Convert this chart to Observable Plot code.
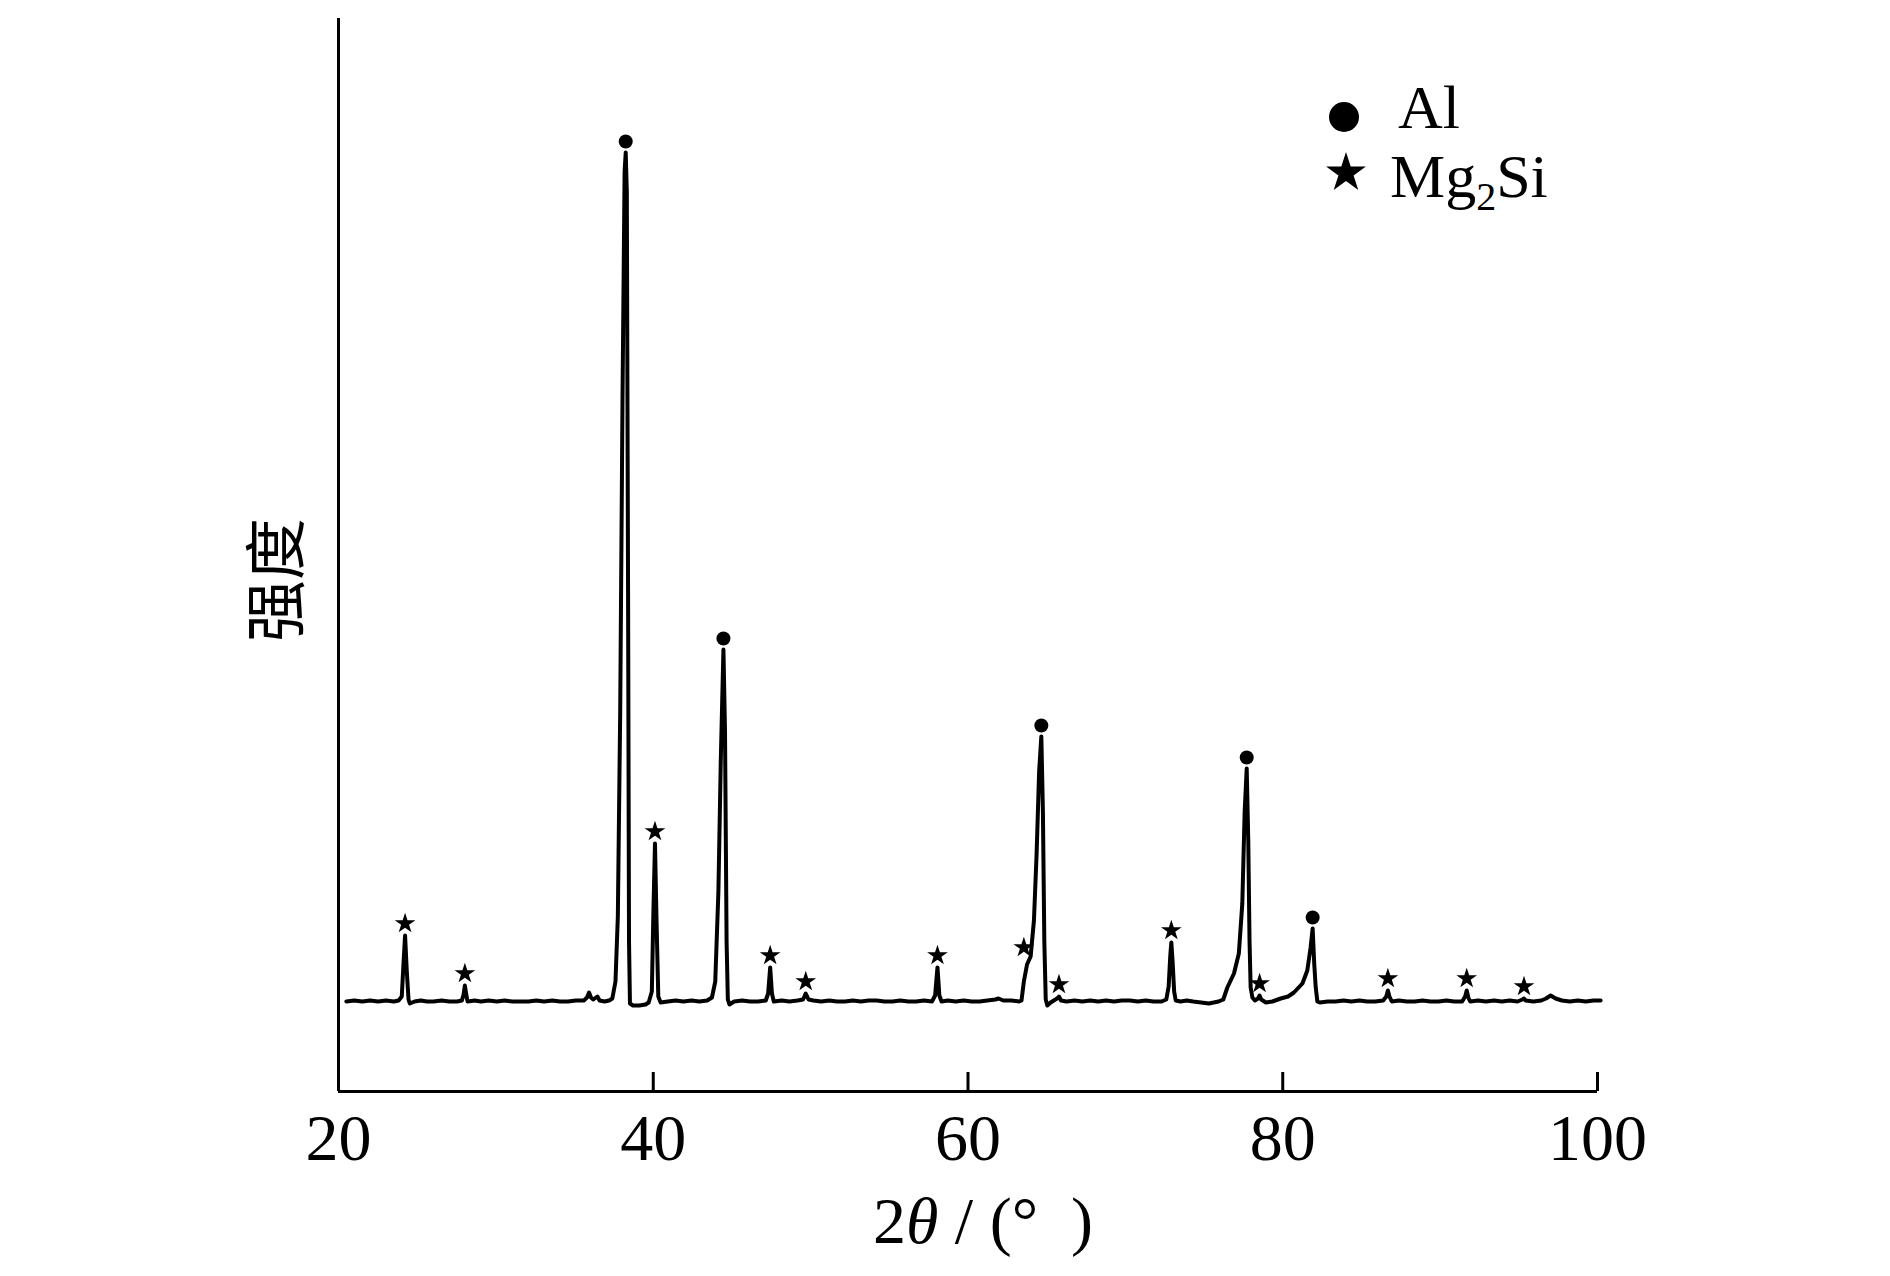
<!DOCTYPE html>
<html>
<head>
<meta charset="utf-8">
<script src="https://cdn.jsdelivr.net/npm/d3@7"></script>
<script src="https://cdn.jsdelivr.net/npm/@observablehq/plot@0.6"></script>
<style>
  html, body { margin: 0; padding: 0; background: #fff; }
  #chart { width: 1890px; height: 1276px; }
</style>
</head>
<body>
<div id="chart"></div>
<script>
// ---- data ----
const xTicks = [20, 40, 60, 80, 100];

const twoTheta = [
  20.50, 21.01, 21.51, 22.01, 22.51, 23.02, 23.52, 23.82, 24.02, 24.12, 24.23, 24.34, 24.45, 24.53, 24.83,
  25.23, 25.63, 26.03, 26.54, 27.04, 27.54, 27.84, 27.95, 28.03, 28.12, 28.20, 28.65, 29.05, 29.55, 30.06,
  30.56, 31.06, 31.57, 32.07, 32.57, 33.07, 33.58, 34.08, 34.58, 35.09, 35.59, 35.79, 35.92, 36.04, 36.19,
  36.45, 36.59, 36.90, 37.20, 37.40, 37.60, 37.75, 37.90, 38.05, 38.18, 38.25, 38.32, 38.40, 38.46, 38.52,
  38.71, 39.11, 39.51, 39.71, 39.91, 40.01, 40.11, 40.21, 40.32, 40.47, 40.92, 41.42, 41.92, 42.43, 42.93,
  43.43, 43.73, 43.94, 44.14, 44.29, 44.46, 44.56, 44.66, 44.74, 44.84, 45.14, 45.65, 46.15, 46.65, 47.15,
  47.30, 47.43, 47.54, 47.66, 48.16, 48.66, 49.17, 49.52, 49.69, 49.87, 50.17, 50.67, 51.18, 51.68, 52.18,
  52.69, 53.19, 53.69, 54.19, 54.70, 55.20, 55.70, 56.21, 56.71, 57.21, 57.71, 57.91, 58.06, 58.18, 58.32,
  58.72, 59.22, 59.73, 60.23, 60.73, 61.23, 61.74, 61.94, 62.24, 62.74, 63.25, 63.40, 63.55, 63.75, 63.98,
  64.19, 64.36, 64.52, 64.66, 64.76, 64.85, 64.94, 65.04, 65.25, 65.66, 65.78, 65.91, 66.26, 66.77,
  67.27, 67.77, 68.27, 68.78, 69.28, 69.78, 70.29, 70.79, 71.29, 71.79, 72.30, 72.60, 72.75, 72.85, 72.92,
  73.00, 73.10, 73.20, 73.50, 73.91, 74.31, 74.81, 75.31, 75.92, 76.22, 76.48, 76.90, 77.21, 77.43, 77.58,
  77.71, 77.81, 77.89, 77.96, 78.07, 78.23, 78.43, 78.53, 78.63, 78.93, 79.34, 79.87, 80.34, 80.71, 81.25,
  81.56, 81.77, 81.90, 82.00, 82.09, 82.20, 82.35, 82.86, 83.36, 83.86, 84.36, 84.87, 85.37, 85.87, 86.38,
  86.58, 86.68, 86.78, 86.93, 87.38, 87.88, 88.39, 88.89, 89.39, 89.90, 90.40, 90.90, 91.40, 91.59, 91.69,
  91.79, 91.91, 92.41, 92.91, 93.42, 93.92, 94.42, 94.92, 95.23, 95.33, 95.43, 95.93, 96.43, 96.73, 97.02,
  97.34, 97.74, 98.24, 98.75, 99.25, 99.75, 100.2
];

const intensity = [
  90, 91, 90, 91, 90, 91, 90, 91, 95, 125, 156, 120, 92, 88, 90,
  91, 90, 90, 91, 90, 90, 91, 97, 106, 97, 90, 91, 90, 91, 90,
  91, 90, 90, 90, 91, 90, 91, 90, 90, 91, 91, 94, 99, 94, 92,
  95, 91, 90, 91, 93, 110, 175, 380, 700, 920, 939, 900, 500, 150, 88,
  86, 86, 87, 89, 100, 180, 248, 170, 95, 89, 90, 91, 90, 91, 90,
  91, 94, 110, 200, 330, 442, 360, 150, 92, 87, 90, 91, 90, 90, 91,
  98, 124, 98, 90, 91, 90, 91, 92, 98, 92, 91, 90, 91, 90, 90,
  91, 90, 91, 91, 90, 90, 91, 90, 90, 91, 90, 96, 124, 96, 90,
  91, 90, 91, 90, 90, 91, 92, 93, 91, 91, 90, 91, 110, 127, 135,
  171, 238, 320, 355, 280, 150, 92, 86, 89, 93, 95, 91, 90, 91,
  90, 91, 90, 91, 90, 91, 91, 90, 91, 90, 90, 92, 105, 135, 149,
  130, 100, 91, 90, 91, 90, 89, 88, 90, 92, 104, 118, 138, 188, 280,
  323, 250, 150, 104, 94, 91, 93, 96, 92, 89, 90, 93, 95, 99, 108,
  121, 144, 163, 128, 105, 90, 89, 90, 90, 91, 90, 91, 90, 90, 91,
  95, 101, 95, 90, 91, 90, 90, 91, 90, 90, 91, 90, 90, 95, 101,
  94, 90, 91, 90, 91, 90, 91, 90, 92, 93, 91, 90, 91, 93, 96,
  93, 91, 90, 91, 90, 91, 91
];

// Peak markers (position, peak height they sit on)
const alPeak2T = [38.25, 44.46, 64.66, 77.71, 81.90];
const alPeakI  = [939, 442, 355, 323, 163];
const mgPeak2T = [24.23, 28.03, 40.11, 47.43, 49.69, 58.06, 63.55, 65.78, 72.92, 78.53, 86.68, 91.69, 95.33];
const mgPeakI  = [156, 106, 248, 124, 98, 124, 132, 95, 149, 96, 101, 101, 93];

const legendLabels = ["Al", "Mg", "2", "Si"];
const xLabelParts = ["2", "θ", " / (°  )"];
const yLabel = "强度";

// ---- build ----
const pattern = twoTheta.map((t, i) => ({t, I: intensity[i]}));
const alPeaks = alPeak2T.map((t, i) => ({t, I: alPeakI[i]}));
const mgPeaks = mgPeak2T.map((t, i) => ({t, I: mgPeakI[i]}));

const W = 1890, H = 1276;
const mL = 338, mR = 293, mT = 18, mB = 185;
const frameH = H - mT - mB;
const serif = "'Liberation Serif', 'Times New Roman', serif";

const chart = Plot.plot({
  width: W,
  height: H,
  marginLeft: mL,
  marginRight: mR,
  marginTop: mT,
  marginBottom: mB,
  style: {fontFamily: serif, color: "black", background: "white", overflow: "visible"},
  x: {domain: [20, 100]},
  y: {domain: [0, 1073], axis: null},
  marks: [
    Plot.ruleX([20], {stroke: "black", strokeWidth: 3}),
    Plot.ruleY([0], {stroke: "black", strokeWidth: 3}),
    Plot.ruleX(xTicks, {x: d => d, stroke: "black", strokeWidth: 3, insetTop: frameH - 19}),
    Plot.axisX({ticks: xTicks, tickSize: 0, tickPadding: 22, fontSize: 66, label: null, fontFamily: serif}),
    Plot.line(pattern, {x: "t", y: "I", stroke: "black", strokeWidth: 4, strokeLinejoin: "round", curve: "linear"}),
    Plot.dot(alPeaks, {x: "t", y: "I", dy: -11, r: 7, fill: "black", stroke: null, symbol: "circle"}),
    Plot.dot(mgPeaks, {x: "t", y: "I", dy: -12, r: 6.5, fill: "black", stroke: null, symbol: "star"})
  ]
});

const svg = d3.select(chart);

// x axis label with italic theta
const xl = svg.append("text")
  .attr("x", 983).attr("y", 1243)
  .attr("text-anchor", "middle")
  .attr("font-family", serif)
  .attr("font-size", 66)
  .attr("fill", "black")
  .style("white-space", "pre");
xl.append("tspan").text(xLabelParts[0]);
xl.append("tspan").attr("font-style", "italic").text(xLabelParts[1]);
xl.append("tspan").text(xLabelParts[2]);

// y axis label (rotated)
svg.append("text")
  .attr("transform", "translate(272,580) rotate(-90)")
  .attr("text-anchor", "middle")
  .attr("dominant-baseline", "central")
  .attr("font-family", "'Noto Sans CJK SC', sans-serif")
  .attr("font-size", 62)
  .attr("fill", "black")
  .text(yLabel);

// legend
const lg = svg.append("g").attr("text-anchor", "start");
lg.append("circle").attr("cx", 1344).attr("cy", 117).attr("r", 15).attr("fill", "black");
lg.append("path")
  .attr("transform", "translate(1346,173)")
  .attr("d", d3.symbol(d3.symbolStar, Math.PI * 12.5 * 12.5)())
  .attr("fill", "black");
lg.append("text")
  .attr("x", 1398).attr("y", 128)
  .attr("text-anchor", "start")
  .attr("font-family", serif).attr("font-size", 62).attr("fill", "black")
  .text(legendLabels[0]);
const mg = lg.append("text")
  .attr("x", 1390).attr("y", 197)
  .attr("text-anchor", "start")
  .attr("font-family", serif).attr("font-size", 62).attr("fill", "black");
mg.append("tspan").text(legendLabels[1]);
mg.append("tspan").attr("font-size", 40).attr("dy", 13).text(legendLabels[2]);
mg.append("tspan").attr("dy", -13).text(legendLabels[3]);

document.getElementById("chart").appendChild(chart);
</script>
</body>
</html>
